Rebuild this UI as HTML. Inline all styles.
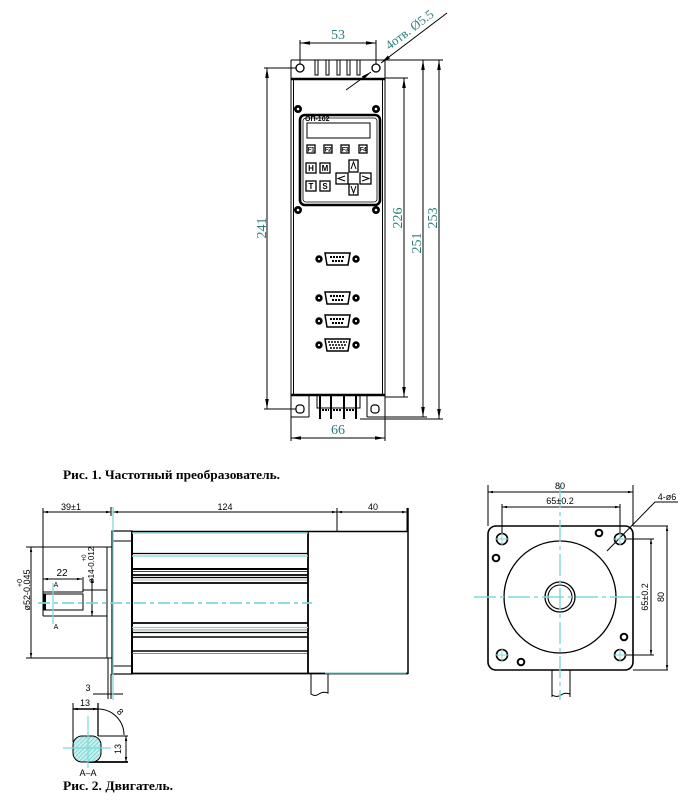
<!DOCTYPE html>
<html><head><meta charset="utf-8"><style>
html,body{margin:0;padding:0;background:#fff;}
svg{display:block;}
</style></head><body>
<svg width="697" height="802" viewBox="0 0 697 802" xmlns="http://www.w3.org/2000/svg">
<defs>
<marker id="ar" viewBox="0 0 10 4" refX="10" refY="2" markerWidth="10" markerHeight="4" markerUnits="userSpaceOnUse" orient="auto-start-reverse"><path d="M0,0.2 L10,2 L0,3.8z" fill="#000"/></marker>
<marker id="sa" viewBox="0 0 6 3" refX="6" refY="1.5" markerWidth="5" markerHeight="2.5" markerUnits="userSpaceOnUse" orient="auto-start-reverse"><path d="M0,0 L6,1.5 L0,3z" fill="#000"/></marker>
<pattern id="hatch" width="3" height="3" patternUnits="userSpaceOnUse" patternTransform="rotate(45)"><rect width="3" height="3" fill="#c8f0f0"/><line x1="0" y1="0" x2="0" y2="3" stroke="#6fd0d0" stroke-width="1.6"/></pattern>
</defs>
<rect width="697" height="802" fill="#fff"/>

<!-- ================= FIG 1: inverter ================= -->
<g stroke="#000" fill="none" stroke-width="1">
  <line x1="291" y1="60" x2="385" y2="60"/>
  <line x1="291" y1="60" x2="291" y2="79"/>
  <circle cx="300" cy="68" r="4" stroke-width="1.3"/>
  <circle cx="376" cy="68" r="4" stroke-width="1.3"/>
  <rect x="315" y="60" width="3" height="15"/>
  <rect x="326" y="60" width="3" height="15"/>
  <rect x="337" y="60" width="3" height="15"/>
  <rect x="347" y="60" width="3" height="15"/>
  <rect x="357" y="60" width="3" height="15"/>
  <line x1="291" y1="78" x2="291" y2="417"/>
  <line x1="293.5" y1="80" x2="293.5" y2="395"/>
  <line x1="382.5" y1="80" x2="382.5" y2="395"/>
  <line x1="385" y1="60" x2="385" y2="417"/>
  <line x1="291" y1="79" x2="385" y2="79" stroke-width="2.5"/>
  <line x1="291" y1="395" x2="385" y2="395" stroke-width="2.5"/>
  <line x1="291" y1="417" x2="309" y2="417"/>
  <line x1="367" y1="417" x2="385" y2="417"/>
  <line x1="309" y1="395" x2="309" y2="417"/>
  <line x1="367" y1="395" x2="367" y2="417"/>
  <rect x="296" y="405" width="8" height="8" rx="3" stroke-width="1.2"/>
  <rect x="371" y="405" width="8" height="8" rx="3" stroke-width="1.2"/>
  <path d="M317,395 V408 H360 V395"/>
  <g stroke-width="2">
    <line x1="320" y1="395" x2="320" y2="419"/>
    <line x1="331" y1="395" x2="331" y2="419"/>
    <line x1="344" y1="395" x2="344" y2="419"/>
    <line x1="356" y1="395" x2="356" y2="419"/>
  </g>
  <path d="M322,410 h7 M333,410 h9 M346,410 h8" stroke-width="2" stroke-dasharray="2,1"/>

  <g fill="#000">
    <circle cx="298" cy="109" r="3.5"/><circle cx="376" cy="109" r="3.5"/>
    <circle cx="298" cy="210" r="3.5"/><circle cx="376" cy="210" r="3.5"/>
  </g>
  <g fill="#fff" stroke="none">
    <circle cx="298" cy="109" r="1.3"/><circle cx="376" cy="109" r="1.3"/>
    <circle cx="298" cy="210" r="1.3"/><circle cx="376" cy="210" r="1.3"/>
  </g>
  <rect x="300" y="115" width="80" height="90" rx="5" stroke-width="2.6"/>
  <rect x="303" y="118" width="74" height="84" rx="3" stroke-width="0.8"/>
  <rect x="307" y="123" width="63" height="15" stroke-width="1"/>
  <g stroke-width="1.3">
    <rect x="307" y="145" width="8" height="8"/>
    <rect x="324" y="145" width="8" height="8"/>
    <rect x="341" y="145" width="8" height="8"/>
    <rect x="359" y="145" width="8" height="8"/>
    <rect x="306" y="163" width="10" height="10"/>
    <rect x="320" y="163" width="10" height="10"/>
    <rect x="306" y="181" width="10" height="10"/>
    <rect x="320" y="181" width="10" height="10"/>
    <rect x="349" y="160" width="9" height="12"/>
    <rect x="349" y="184" width="9" height="11"/>
    <rect x="336" y="173" width="12" height="11"/>
    <rect x="360" y="173" width="11" height="11"/>
  </g>
  <g stroke-width="1">
    <path d="M351,169 L353.5,162 L356,169"/>
    <path d="M351,186 L353.5,193 L356,186"/>
    <path d="M345,176 L338,178.5 L345,181"/>
    <path d="M362,176 L369,178.5 L362,181"/>
  </g>

  <g id="cn">
    <circle cx="319" cy="259" r="3.2" fill="#000"/>
    <circle cx="356" cy="259" r="3.2" fill="#000"/>
    <circle cx="319" cy="259" r="1.1" fill="#fff" stroke="none"/>
    <circle cx="356" cy="259" r="1.1" fill="#fff" stroke="none"/>
    <path d="M325,253 H350 L348,265 H327 Z" stroke-width="1.5"/>
    <path d="M330,257 h15 M332,261 h11" stroke-width="2" stroke-dasharray="2,1"/>
  </g>
  <use href="#cn" transform="translate(0,39)"/>
  <use href="#cn" transform="translate(0,62)"/>
  <g>
    <circle cx="319" cy="345" r="3.2" fill="#000"/>
    <circle cx="356" cy="345" r="3.2" fill="#000"/>
    <circle cx="319" cy="345" r="1.1" fill="#fff" stroke="none"/>
    <circle cx="356" cy="345" r="1.1" fill="#fff" stroke="none"/>
    <path d="M325,339 H350 L348,351 H327 Z" stroke-width="1.5"/>
    <path d="M328,342 h19 M329,345 h17 M330,348 h15" stroke-width="1.5" stroke-dasharray="2,1"/>
  </g>

  <line x1="300" y1="40" x2="300" y2="64"/>
  <line x1="376" y1="40" x2="376" y2="64"/>
  <line x1="300" y1="43" x2="376" y2="43" marker-start="url(#ar)" marker-end="url(#ar)"/>

  <line x1="264" y1="68" x2="296" y2="68"/>
  <line x1="264" y1="409" x2="296" y2="409"/>
  <line x1="267" y1="68" x2="267" y2="409" marker-start="url(#ar)" marker-end="url(#ar)"/>

  <line x1="385" y1="78" x2="408" y2="78"/>
  <line x1="385" y1="397" x2="408" y2="397"/>
  <line x1="404" y1="78" x2="404" y2="397" marker-start="url(#ar)" marker-end="url(#ar)"/>

  <line x1="385" y1="60" x2="443" y2="60"/>
  <line x1="385" y1="417" x2="427" y2="417"/>
  <line x1="423" y1="60" x2="423" y2="417" marker-start="url(#ar)" marker-end="url(#ar)"/>

  <line x1="360" y1="419" x2="443" y2="419"/>
  <line x1="439" y1="60" x2="439" y2="419" marker-start="url(#ar)" marker-end="url(#ar)"/>

  <line x1="291" y1="417" x2="291" y2="441"/>
  <line x1="385" y1="417" x2="385" y2="441"/>
  <line x1="291" y1="438" x2="385" y2="438" marker-start="url(#ar)" marker-end="url(#ar)"/>

  <line x1="447" y1="13" x2="381" y2="63" marker-end="url(#ar)"/>
  <line x1="346" y1="90" x2="371" y2="72" marker-end="url(#ar)"/>
</g>
<text x="305" y="121" font-family="Liberation Sans, sans-serif" font-size="7" font-weight="bold" fill="#000">ОП-102</text>
<g font-family="Liberation Sans, sans-serif" font-size="6.5" font-weight="bold" fill="#000" text-anchor="middle" letter-spacing="-0.5">
  <text x="311" y="151.5">F1</text><text x="328" y="151.5">F2</text><text x="345" y="151.5">F3</text><text x="363" y="151.5">F4</text>
</g>
<g font-family="Liberation Sans, sans-serif" font-size="8" font-weight="bold" fill="#000" text-anchor="middle">
  <text x="311" y="171">H</text><text x="325" y="171">M</text><text x="311" y="189">T</text><text x="325" y="189">S</text>
</g>
<g font-family="Liberation Serif, serif" font-size="14" fill="#2b7d7d" text-anchor="middle">
  <text x="338" y="39">53</text>
  <text x="338" y="434">66</text>
  <text transform="translate(266,228) rotate(-90)">241</text>
  <text transform="translate(402,218) rotate(-90)">226</text>
  <text transform="translate(421,243) rotate(-90)">251</text>
  <text transform="translate(437,218) rotate(-90)">253</text>
  <text transform="translate(412,33) rotate(-37)" font-size="13">4отв. Ø5.5</text>
</g>
<text x="63" y="479" font-family="Liberation Serif, serif" font-size="13" font-weight="bold" fill="#000" textLength="217" lengthAdjust="spacingAndGlyphs">Рис. 1. Частотный преобразователь.</text>

<!-- ================= FIG 2: motor side view ================= -->
<g stroke="#000" fill="none" stroke-width="1">
  <line x1="43" y1="508" x2="43" y2="592"/>
  <line x1="111" y1="507" x2="111" y2="516"/>
  <line x1="337" y1="508" x2="337" y2="532"/>
  <line x1="407" y1="508" x2="407" y2="531"/>
  <line x1="43" y1="512" x2="111" y2="512" marker-start="url(#sa)" marker-end="url(#sa)"/>
  <line x1="113" y1="512" x2="337" y2="512" marker-start="url(#sa)" marker-end="url(#sa)"/>
  <line x1="337" y1="512" x2="407" y2="512" marker-start="url(#sa)" marker-end="url(#sa)"/>

  <rect x="112" y="531" width="20" height="143" stroke-width="1.2"/>
  <line x1="112" y1="541" x2="132" y2="541"/>
  <line x1="112" y1="666" x2="132" y2="666"/>
  <line x1="132" y1="531" x2="132" y2="674" stroke-width="2"/>
  <rect x="107" y="547" width="5" height="111"/>
  <line x1="108" y1="658" x2="108" y2="699"/>
  <line x1="111" y1="674" x2="111" y2="699"/>

  <line x1="132" y1="531.5" x2="408" y2="531.5" stroke-width="1.6"/>
  <line x1="132" y1="553.5" x2="308" y2="553.5" stroke-width="1.3"/>
  <line x1="132" y1="569" x2="308" y2="569" stroke-width="2"/>
  <line x1="132" y1="571.5" x2="308" y2="571.5" stroke-width="0.8"/>
  <line x1="132" y1="575" x2="308" y2="575" stroke-width="1.8"/>
  <line x1="132" y1="577.5" x2="308" y2="577.5" stroke-width="1.2"/>
  <line x1="132" y1="580" x2="308" y2="580" stroke-width="0.6" stroke="#777"/>
  <line x1="132" y1="583" x2="308" y2="583" stroke-width="1.8"/>
  <line x1="132" y1="623" x2="308" y2="623" stroke-width="1.8"/>
  <line x1="132" y1="630" x2="308" y2="630" stroke-width="0.8" stroke="#777"/>
  <line x1="132" y1="632.5" x2="308" y2="632.5" stroke-width="1.2"/>
  <line x1="132" y1="637" x2="308" y2="637" stroke-width="1.4"/>
  <line x1="132" y1="651" x2="308" y2="651" stroke-width="1.4"/>
  <line x1="132" y1="653.5" x2="308" y2="653.5" stroke-width="0.8" stroke="#666"/>
  <line x1="132" y1="673.5" x2="408" y2="673.5" stroke-width="1.8"/>
  <line x1="308" y1="531" x2="308" y2="674" stroke-width="1.8"/>
  <line x1="408" y1="508" x2="408" y2="674" stroke-width="1.5"/>
  <path d="M311,674 V694 Q315,697 319,694 T328,693 V674"/>

  <line x1="26" y1="547" x2="107" y2="547"/>
  <line x1="26" y1="658" x2="107" y2="658"/>
  <line x1="31" y1="547" x2="31" y2="658" marker-start="url(#sa)" marker-end="url(#sa)"/>
  <line x1="83" y1="590" x2="107" y2="590"/>
  <line x1="43" y1="592" x2="83" y2="592"/>
  <line x1="43" y1="616" x2="107" y2="616"/>
  <line x1="43" y1="592" x2="43" y2="616"/>
  <line x1="83" y1="577" x2="83" y2="592"/>
  <rect x="44" y="594" width="39" height="16"/>
  <line x1="45" y1="594" x2="45" y2="610" stroke-width="2"/>
  <line x1="43" y1="579" x2="82" y2="579" marker-start="url(#sa)" marker-end="url(#sa)"/>
  <line x1="92" y1="578" x2="92" y2="616" marker-start="url(#sa)" marker-end="url(#sa)"/>

  <line x1="93" y1="694" x2="123" y2="694"/>
</g>
<g stroke="#7fd8d8" fill="none" stroke-width="1.3">
  <line x1="113" y1="507" x2="113" y2="700"/>
  <line x1="132" y1="533" x2="308" y2="533"/>
  <line x1="132" y1="556" x2="308" y2="556"/>
  <line x1="132" y1="627.5" x2="308" y2="627.5"/>
  <line x1="325" y1="673" x2="406" y2="673"/>
  <line x1="38" y1="603" x2="312" y2="603" stroke-width="1.8" stroke-dasharray="12,4,4,4"/>
  <line x1="53" y1="583" x2="53" y2="624"/>
</g>
<g font-family="Liberation Sans, sans-serif" font-size="9" fill="#000">
  <text x="71" y="510" text-anchor="middle">39±1</text>
  <text x="225" y="510" text-anchor="middle">124</text>
  <text x="373" y="510" text-anchor="middle">40</text>
  <text x="62" y="576" text-anchor="middle" font-size="10">22</text>
  <text x="56" y="587" text-anchor="middle" font-size="7">A</text>
  <text x="56" y="629" text-anchor="middle" font-size="7">A</text>
  <text x="88" y="691" text-anchor="middle">3</text>
  <text transform="translate(30,590) rotate(-90)" text-anchor="middle" font-size="9">ø52-0.045</text>
  <text transform="translate(22,583) rotate(-90)" text-anchor="middle" font-size="7">+0</text>
  <text transform="translate(94,565) rotate(-90)" text-anchor="middle" font-size="8">ø14-0.012</text>
  <text transform="translate(86,558) rotate(-90)" text-anchor="middle" font-size="6">+0</text>
</g>

<!-- section A-A -->
<g stroke="#000" fill="none" stroke-width="1">
  <line x1="73" y1="703" x2="73" y2="742"/>
  <line x1="73" y1="709" x2="98" y2="709" stroke-width="1.6" marker-start="url(#sa)" marker-end="url(#sa)"/>
  <line x1="98" y1="703" x2="98" y2="736" stroke-width="1.3"/>
  <path d="M98,709 A26,26 0 0 1 124,735"/>
  <line x1="98" y1="736" x2="128" y2="736"/>
  <line x1="88" y1="762" x2="128" y2="762" stroke-width="1.8"/>
  <line x1="126" y1="736" x2="126" y2="762" marker-start="url(#sa)" marker-end="url(#sa)"/>
</g>
<rect x="73" y="736" width="28" height="26" rx="9" fill="url(#hatch)" stroke="#000" stroke-width="1"/>
<g stroke="#7fd8d8" stroke-width="1.2">
  <line x1="63" y1="748" x2="111" y2="748"/>
  <line x1="88" y1="716" x2="88" y2="768"/>
</g>
<g font-family="Liberation Sans, sans-serif" font-size="9" fill="#000" text-anchor="middle">
  <text x="85" y="706">13</text>
  <text transform="translate(121,749) rotate(-90)">13</text>
  <text transform="translate(118,714) rotate(45)">8</text>
  <text x="88" y="776">A–A</text>
</g>
<text x="63" y="790" font-family="Liberation Serif, serif" font-size="13" font-weight="bold" fill="#000" textLength="110" lengthAdjust="spacingAndGlyphs">Рис. 2. Двигатель.</text>

<!-- ================= motor front view ================= -->
<g stroke="#000" fill="none" stroke-width="1">
  <rect x="488" y="526" width="145" height="144" rx="8" stroke-width="1.6"/>
  <line x1="633" y1="526" x2="668" y2="526"/>
  <line x1="633" y1="670" x2="668" y2="670"/>
  <circle cx="560" cy="597" r="56" stroke-width="1.3"/>
  <circle cx="560" cy="597" r="15" stroke-width="1.3"/>
  <circle cx="560" cy="597" r="12" stroke-width="1.1"/>
  <g stroke-width="1.6">
    <circle cx="502" cy="539" r="5.5"/><circle cx="620" cy="539" r="5.5"/>
    <circle cx="502" cy="655" r="5.5"/><circle cx="620" cy="655" r="5.5"/>
  </g>
  <g stroke-width="2">
    <circle cx="599" cy="533" r="3.3"/><circle cx="496" cy="558" r="3.3"/>
    <circle cx="624" cy="637" r="3.3"/><circle cx="521" cy="662" r="3.3"/>
  </g>
  <line x1="488" y1="485" x2="488" y2="526"/>
  <line x1="633" y1="485" x2="633" y2="526"/>
  <line x1="488" y1="492" x2="633" y2="492" marker-start="url(#sa)" marker-end="url(#sa)"/>
  <line x1="502" y1="504" x2="502" y2="535"/>
  <line x1="620" y1="504" x2="620" y2="535"/>
  <line x1="502" y1="507" x2="620" y2="507" marker-start="url(#sa)" marker-end="url(#sa)"/>
  <line x1="667" y1="526" x2="667" y2="670" marker-start="url(#sa)" marker-end="url(#sa)"/>
  <line x1="625" y1="539" x2="654" y2="539"/>
  <line x1="625" y1="655" x2="654" y2="655"/>
  <line x1="651" y1="539" x2="651" y2="655" marker-start="url(#sa)" marker-end="url(#sa)"/>
  <path d="M607,551 L655,502 H678"/>
  <line x1="552" y1="670" x2="552" y2="697"/>
  <line x1="570" y1="670" x2="570" y2="697"/>
  <path d="M552,695 Q557,698 561,695 T570,694"/>
</g>
<g stroke="#7fd8d8" fill="none" stroke-width="1.4">
  <line x1="474" y1="597" x2="642" y2="597" stroke-dasharray="22,4,4,4"/>
  <line x1="560" y1="486" x2="560" y2="700" stroke-dasharray="22,4,4,4"/>
  <path d="M496,539 h12 M502,533 v12 M614,539 h12 M620,533 v12 M496,655 h12 M502,649 v12 M614,655 h12 M620,649 v12" stroke-width="1"/>
</g>
<g font-family="Liberation Sans, sans-serif" font-size="9" fill="#000" text-anchor="middle">
  <text x="560" y="489">80</text>
  <text x="560" y="504">65±0.2</text>
  <text transform="translate(664,597) rotate(-90)">80</text>
  <text transform="translate(648,597) rotate(-90)">65±0.2</text>
  <text x="667" y="500">4-ø6</text>
</g>
</svg>
</body></html>
